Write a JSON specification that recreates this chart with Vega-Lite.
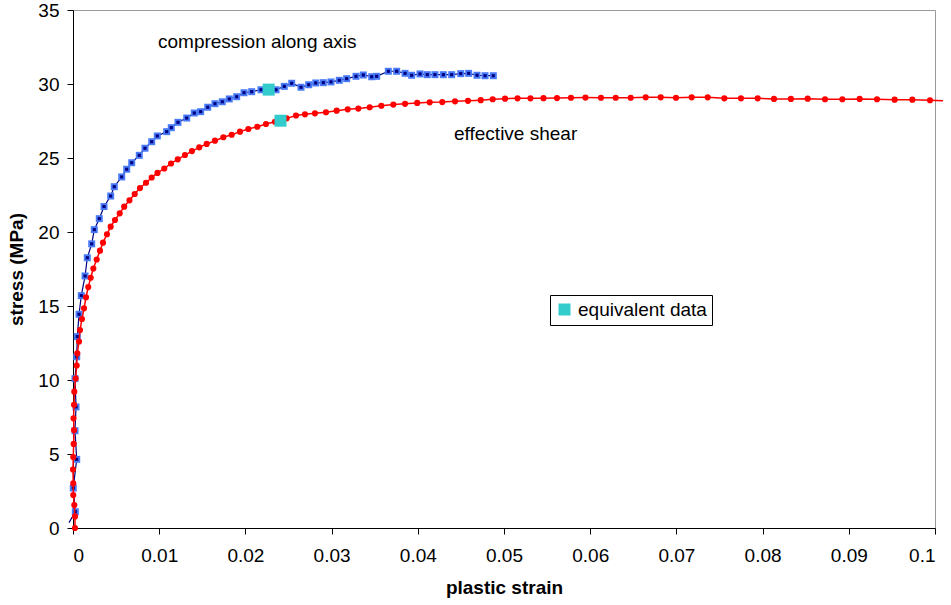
{
  "$schema": "https://vega.github.io/schema/vega-lite/v6.json",
  "autosize": {"type": "none"},
  "width": 862,
  "height": 518,
  "padding": {"left": 73, "top": 10, "right": 16, "bottom": 77},
  "background": "white",
  "config": {
    "font": "Liberation Sans",
    "view": {"stroke": "#999999", "strokeWidth": 1},
    "axis": {"grid": false, "domainColor": "#000000", "tickColor": "#000000", "labelColor": "#000000", "titleColor": "#000000", "labelFont": "Liberation Sans", "titleFont": "Liberation Sans", "labelFontSize": 19, "titleFontSize": 19, "titleFontWeight": "bold", "tickSize": 6, "labelFontWeight": "normal"}
  },
  "datasets": {
    "compression": [
      {"strain": -0.00046, "stress": 0.36}, {"strain": 0.00027, "stress": 1.1}, {"strain": 0.00003, "stress": 2.7}, {"strain": 0.00043, "stress": 4.64}, {"strain": 0.00023, "stress": 6.57}, {"strain": 0.00035, "stress": 8.18}, {"strain": 0.00023, "stress": 10.09}, {"strain": 0.00043, "stress": 11.57}, {"strain": 0.0005, "stress": 12.93}, {"strain": 0.0007, "stress": 14.44}, {"strain": 0.00096, "stress": 15.7}, {"strain": 0.0014, "stress": 17.03}, {"strain": 0.00166, "stress": 18.26}, {"strain": 0.00217, "stress": 19.2}, {"strain": 0.00247, "stress": 20.16}, {"strain": 0.00305, "stress": 20.9}, {"strain": 0.0036, "stress": 21.72}, {"strain": 0.00437, "stress": 22.43}, {"strain": 0.00479, "stress": 23.06}, {"strain": 0.00565, "stress": 23.72}, {"strain": 0.00623, "stress": 24.24}, {"strain": 0.00681, "stress": 24.68}, {"strain": 0.00769, "stress": 25.18}, {"strain": 0.00835, "stress": 25.66}, {"strain": 0.00913, "stress": 26.1}, {"strain": 0.00978, "stress": 26.49}, {"strain": 0.01087, "stress": 26.78}, {"strain": 0.0114, "stress": 27.05}, {"strain": 0.01218, "stress": 27.41}, {"strain": 0.01319, "stress": 27.7}, {"strain": 0.01407, "stress": 28.04}, {"strain": 0.01481, "stress": 28.13}, {"strain": 0.01563, "stress": 28.43}, {"strain": 0.01647, "stress": 28.67}, {"strain": 0.01732, "stress": 28.8}, {"strain": 0.01813, "stress": 28.99}, {"strain": 0.01899, "stress": 29.14}, {"strain": 0.01984, "stress": 29.41}, {"strain": 0.02073, "stress": 29.48}, {"strain": 0.02181, "stress": 29.61}, {"strain": 0.02268, "stress": 29.61}, {"strain": 0.02355, "stress": 29.61}, {"strain": 0.02451, "stress": 29.84}, {"strain": 0.02537, "stress": 30.05}, {"strain": 0.02645, "stress": 29.78}, {"strain": 0.02734, "stress": 29.95}, {"strain": 0.02816, "stress": 30.07}, {"strain": 0.02904, "stress": 30.09}, {"strain": 0.02993, "stress": 30.14}, {"strain": 0.03089, "stress": 30.25}, {"strain": 0.03175, "stress": 30.36}, {"strain": 0.03283, "stress": 30.52}, {"strain": 0.03368, "stress": 30.61}, {"strain": 0.03465, "stress": 30.49}, {"strain": 0.03523, "stress": 30.52}, {"strain": 0.03658, "stress": 30.86}, {"strain": 0.03755, "stress": 30.86}, {"strain": 0.03852, "stress": 30.72}, {"strain": 0.03929, "stress": 30.59}, {"strain": 0.04026, "stress": 30.68}, {"strain": 0.0411, "stress": 30.63}, {"strain": 0.04199, "stress": 30.63}, {"strain": 0.04296, "stress": 30.63}, {"strain": 0.04393, "stress": 30.63}, {"strain": 0.04498, "stress": 30.7}, {"strain": 0.0459, "stress": 30.72}, {"strain": 0.04687, "stress": 30.59}, {"strain": 0.0478, "stress": 30.56}, {"strain": 0.04876, "stress": 30.56}
    ],
    "shear": [
      {"strain": 0.00023, "stress": 0}, {"strain": 0.00023, "stress": 0.78}, {"strain": 0.00015, "stress": 1.55}, {"strain": 0.00003, "stress": 2.23}, {"strain": 0.00003, "stress": 3.01}, {"strain": 0, "stress": 3.95}, {"strain": 0.00003, "stress": 4.8}, {"strain": 0.00008, "stress": 5.68}, {"strain": 0.00012, "stress": 6.62}, {"strain": 0.00006, "stress": 7.41}, {"strain": 0.00012, "stress": 8.33}, {"strain": 0.00015, "stress": 9.21}, {"strain": 0.00031, "stress": 10.1}, {"strain": 0.00043, "stress": 10.98}, {"strain": 0.0005, "stress": 11.8}, {"strain": 0.0007, "stress": 12.6}, {"strain": 0.00081, "stress": 13.38}, {"strain": 0.00104, "stress": 14.12}, {"strain": 0.00128, "stress": 14.84}, {"strain": 0.00151, "stress": 15.59}, {"strain": 0.00177, "stress": 16.28}, {"strain": 0.00205, "stress": 16.91}, {"strain": 0.00236, "stress": 17.53}, {"strain": 0.00275, "stress": 18.14}, {"strain": 0.00313, "stress": 18.74}, {"strain": 0.00348, "stress": 19.28}, {"strain": 0.00394, "stress": 19.85}, {"strain": 0.00437, "stress": 20.36}, {"strain": 0.00487, "stress": 20.81}, {"strain": 0.00542, "stress": 21.26}, {"strain": 0.00594, "stress": 21.71}, {"strain": 0.00655, "stress": 22.14}, {"strain": 0.00716, "stress": 22.57}, {"strain": 0.00777, "stress": 22.97}, {"strain": 0.00847, "stress": 23.33}, {"strain": 0.00913, "stress": 23.68}, {"strain": 0.0098, "stress": 23.99}, {"strain": 0.01059, "stress": 24.29}, {"strain": 0.01137, "stress": 24.63}, {"strain": 0.01215, "stress": 24.91}, {"strain": 0.01299, "stress": 25.2}, {"strain": 0.0138, "stress": 25.47}, {"strain": 0.01465, "stress": 25.72}, {"strain": 0.01551, "stress": 25.95}, {"strain": 0.01647, "stress": 26.17}, {"strain": 0.01744, "stress": 26.4}, {"strain": 0.01841, "stress": 26.57}, {"strain": 0.01937, "stress": 26.78}, {"strain": 0.02034, "stress": 26.96}, {"strain": 0.02138, "stress": 27.11}, {"strain": 0.02239, "stress": 27.3}, {"strain": 0.02343, "stress": 27.45}, {"strain": 0.0241, "stress": 27.52}, {"strain": 0.02479, "stress": 27.68}, {"strain": 0.02587, "stress": 27.87}, {"strain": 0.02691, "stress": 27.95}, {"strain": 0.02807, "stress": 28.02}, {"strain": 0.02935, "stress": 28.09}, {"strain": 0.03059, "stress": 28.2}, {"strain": 0.03187, "stress": 28.29}, {"strain": 0.0331, "stress": 28.34}, {"strain": 0.03442, "stress": 28.43}, {"strain": 0.03577, "stress": 28.53}, {"strain": 0.03716, "stress": 28.61}, {"strain": 0.03852, "stress": 28.66}, {"strain": 0.03993, "stress": 28.72}, {"strain": 0.04138, "stress": 28.76}, {"strain": 0.04284, "stress": 28.78}, {"strain": 0.04432, "stress": 28.83}, {"strain": 0.04582, "stress": 28.86}, {"strain": 0.0473, "stress": 28.91}, {"strain": 0.04869, "stress": 28.97}, {"strain": 0.05012, "stress": 29.01}, {"strain": 0.05157, "stress": 29.03}, {"strain": 0.05307, "stress": 29.03}, {"strain": 0.05458, "stress": 29.04}, {"strain": 0.05615, "stress": 29.05}, {"strain": 0.05777, "stress": 29.07}, {"strain": 0.05945, "stress": 29.08}, {"strain": 0.06125, "stress": 29.07}, {"strain": 0.06296, "stress": 29.07}, {"strain": 0.0647, "stress": 29.07}, {"strain": 0.06644, "stress": 29.1}, {"strain": 0.06818, "stress": 29.1}, {"strain": 0.06995, "stress": 29.07}, {"strain": 0.07177, "stress": 29.1}, {"strain": 0.07363, "stress": 29.1}, {"strain": 0.07556, "stress": 29.03}, {"strain": 0.07749, "stress": 29.03}, {"strain": 0.07943, "stress": 29.03}, {"strain": 0.08132, "stress": 28.99}, {"strain": 0.08329, "stress": 28.99}, {"strain": 0.08523, "stress": 29.01}, {"strain": 0.08724, "stress": 28.97}, {"strain": 0.08925, "stress": 28.97}, {"strain": 0.09126, "stress": 28.99}, {"strain": 0.09327, "stress": 28.97}, {"strain": 0.09532, "stress": 28.94}, {"strain": 0.09737, "stress": 28.94}, {"strain": 0.09942, "stress": 28.9}, {"strain": 0.10093, "stress": 28.87}
    ],
    "equivalent": [
      {"strain": 0.0227, "stress": 29.62, "series": "equivalent data"},
      {"strain": 0.02407, "stress": 27.52, "series": "equivalent data"}
    ],
    "labels": [
      {"strain": 0.00986, "stress": 32.84, "label": "compression along axis"},
      {"strain": 0.0442, "stress": 26.62, "label": "effective shear"}
    ]
  },
  "encoding": {
    "x": {"field": "strain", "type": "quantitative", "scale": {"domain": [0, 0.1], "nice": false, "zero": false},
      "axis": {"values": [0, 0.01, 0.02, 0.03, 0.04, 0.05, 0.06, 0.07, 0.08, 0.09, 0.1], "format": "~g", "title": "plastic strain", "labelPadding": 12, "titlePadding": 13}},
    "y": {"field": "stress", "type": "quantitative", "scale": {"domain": [0, 35], "nice": false},
      "axis": {"values": [0, 5, 10, 15, 20, 25, 30, 35], "title": "stress (MPa)", "labelPadding": 8, "titlePadding": 11}}
  },
  "layer": [
    {"data": {"name": "compression"}, "mark": {"type": "line", "color": "#000080", "strokeWidth": 1.2}, "encoding": {"order": {"value": null}}},
    {"data": {"name": "compression"}, "transform": [{"filter": "datum.strain >= 0"}], "mark": {"type": "point", "shape": "square", "filled": true, "color": "#4a7bf7", "opacity": 1, "size": 49}},
    {"data": {"name": "compression"}, "transform": [{"filter": "datum.strain >= 0"}], "mark": {"type": "point", "shape": "square", "filled": true, "color": "#000080", "opacity": 1, "size": 10}},
    {"data": {"name": "shear"}, "mark": {"type": "line", "color": "#ff0000", "strokeWidth": 1.5}, "encoding": {"order": {"value": null}}},
    {"data": {"name": "shear"}, "transform": [{"filter": "datum.strain <= 0.1"}], "mark": {"type": "point", "shape": "circle", "filled": true, "color": "#ff0000", "opacity": 1, "size": 38}},
    {"data": {"name": "equivalent"}, "mark": {"type": "point", "shape": "square", "filled": true, "opacity": 1, "size": 144},
      "encoding": {"color": {"field": "series", "type": "nominal", "scale": {"domain": ["equivalent data"], "range": ["#33cccc"]},
        "legend": {"title": null, "orient": "none", "legendX": 477, "legendY": 285, "strokeColor": "#000000", "fillColor": "#ffffff", "padding": 5, "labelFontSize": 19, "labelFont": "Liberation Sans", "labelColor": "#000000", "symbolType": "square", "symbolSize": 144, "symbolStrokeWidth": 0, "symbolOpacity": 1, "labelLimit": 300, "labelOffset": 4}}}},
    {"data": {"name": "labels"}, "mark": {"type": "text", "align": "left", "baseline": "middle", "fontSize": 19, "font": "Liberation Sans", "color": "#000000"},
      "encoding": {"text": {"field": "label"}}}
  ]
}
